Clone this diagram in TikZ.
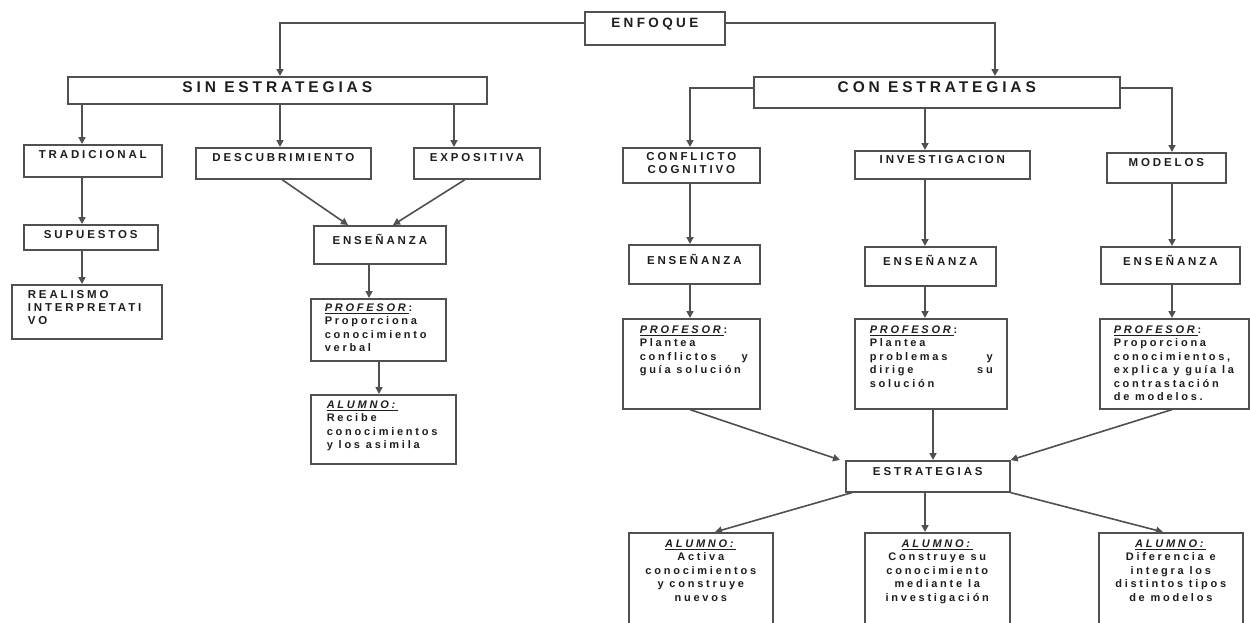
\documentclass[tikz,border=0pt]{standalone}
\usepackage{fontspec}
\setmainfont{Liberation Sans}[LetterSpace=25,BoldFont={Liberation Sans Bold},BoldItalicFont={Liberation Sans Bold Italic}]
\usetikzlibrary{arrows.meta,calc}
\definecolor{lc}{HTML}{505050}
\definecolor{tc}{HTML}{1E1E1E}
\newcommand\bc[4]{\parbox[c][#2pt][t]{#1pt}{\vspace*{#3pt}\centering #4\par}}
\newcommand\bl[6]{\parbox[c][#2pt][t]{#1pt}{\vspace*{#3pt}\leftskip=#4pt\rightskip=#5pt plus 1fil\parindent=0pt #6\par}}
\newcommand\jf{\hspace{0pt plus 1fill}}
\newcommand\prof{\underline{\textit{PROFESOR}}:}
\newcommand\alu{\underline{\textit{ALUMNO:}}}
\tikzset{
  x=1pt, y=-1pt,
  box/.style={draw=lc, line width=1.6pt, inner sep=0pt, anchor=north west, text=tc},
  fbig/.style={font=\fontsize{15.5}{18}\selectfont\bfseries},
  fmed/.style={font=\fontsize{13.5}{16}\selectfont\bfseries},
  fsm/.style={font=\fontsize{11.5}{13}\selectfont\bfseries},
  fbody/.style={font=\fontsize{11}{13.4}\selectfont\bfseries},
  arr/.style={draw=lc, line width=1.6pt, -{Triangle[length=7pt,width=7pt]}}
}
\begin{document}
\begin{tikzpicture}
\useasboundingbox (0,0) rectangle (1250,622);
\fill[white] (0,0) rectangle (1250,622);
\clip (0,0) rectangle (1250,622);
% column coordinates
\foreach \c in {82,280,282,348,369,379,393,454,465,690,715,840,925,933,995,1163,1172}{\coordinate (c\c) at (\c,0);}
% nodes
\node[box,fmed] (enf) at (584,11) {\bc{140}{33}{6}{ENFOQUE}};
\node[box,fbig] (sin) at (67,76) {\bc{419}{27}{5}{SIN ESTRATEGIAS}};
\node[box,fbig] (con) at (753,76) {\bc{366}{31}{5}{CON ESTRATEGIAS}};
\node[box,fsm] (trad) at (23,144) {\bc{138}{32}{6}{TRADICIONAL}};
\node[box,fsm] (desc) at (195,147) {\bc{175}{31}{6}{DESCUBRIMIENTO}};
\node[box,fsm] (expo) at (413,147) {\bc{126}{31}{6}{EXPOSITIVA}};
\node[box,fsm] (sup) at (23,224) {\bc{134}{25}{6}{SUPUESTOS}};
\node[box,fsm] (real) at (11,284) {\bl{150}{54}{6}{16}{0}{REALISMO\\ INTERPRETATI\\ VO}};
\node[box,fsm] (ens1) at (313,225) {\bc{132}{38}{8}{ENSEÑANZA}};
\node[box,fbody] (profL) at (310,298) {\bl{135}{62}{5}{14}{0}{\prof\\ Proporciona\\ conocimiento\\ verbal}};
\node[box,fbody] (aluL) at (310,394) {\bl{145}{69}{6}{16}{0}{\alu\\ Recibe\\ conocimientos\\ y los asimila}};
\node[box,fsm] (conf) at (622,147) {\bc{137}{35}{5}{CONFLICTO\\ COGNITIVO}};
\node[box,fsm] (inv) at (854,150) {\bc{175}{28}{5}{INVESTIGACION}};
\node[box,fsm] (mod) at (1106,152) {\bc{119}{30}{6}{MODELOS}};
\node[box,fsm] (ens2) at (628,244) {\bc{131}{39}{9}{ENSEÑANZA}};
\node[box,fsm] (ens3) at (864,246) {\bc{131}{39}{8}{ENSEÑANZA}};
\node[box,fsm] (ens4) at (1100,246) {\bc{139}{37}{8}{ENSEÑANZA}};
\node[box,fbody] (pr1) at (622,318) {\bl{137}{90}{7}{17}{12}{\prof\\ Plantea\\ conflictos\jf y\\ guía~solución}};
\node[box,fbody] (pr2) at (854,318) {\bl{152}{90}{7}{15}{14}{\prof\\ Plantea\\ problemas\jf y\\ dirige\jf su\\ solución}};
\node[box,fbody] (pr3) at (1099,318) {\bl{149}{90}{7}{14}{0}{\prof\\ Proporciona\\ conocimientos,\\ explica~y~guía~la\\ contrastación\\ de~modelos.}};
\node[box,fsm] (estr) at (845,460) {\bc{164}{31}{7}{ESTRATEGIAS}};
\node[box,fbody] (al1) at (628,532) {\bc{144}{108}{7}{\alu\\ Activa\\ conocimientos\\ y~construye\\ nuevos}};
\node[box,fbody] (al2) at (864,532) {\bc{145}{108}{7}{\alu\\ Construye~su\\ conocimiento\\ mediante~la\\ investigación}};
\node[box,fbody] (al3) at (1098,532) {\bc{144}{108}{7}{\alu\\ Diferencia~e\\ integra~los\\ distintos~tipos\\ de~modelos}};
% connectors
\draw[arr] ([yshift=5.5pt]enf.west) -| (sin.north -| c280);
\draw[arr] ([yshift=5.5pt]enf.east) -| (con.north -| c995);
\draw[arr] (sin.south -| c82) -- (trad.north -| c82);
\draw[arr] (sin.south -| c280) -- (desc.north -| c280);
\draw[arr] (sin.south -| c454) -- (expo.north -| c454);
\draw[arr] (trad.south -| c82) -- (sup.north -| c82);
\draw[arr] (sup.south -| c82) -- (real.north -| c82);
\draw[arr] (desc.south -| c282) -- (ens1.north -| c348);
\draw[arr] (expo.south -| c465) -- (ens1.north -| c393);
\draw[arr] (ens1.south -| c369) -- (profL.north -| c369);
\draw[arr] (profL.south -| c379) -- (aluL.north -| c379);
\draw[arr] ([yshift=4.5pt]con.west) -| (conf.north -| c690);
\draw[arr] (con.south -| c925) -- (inv.north -| c925);
\draw[arr] ([yshift=4.5pt]con.east) -| (mod.north -| c1172);
\draw[arr] (conf.south -| c690) -- (ens2.north -| c690);
\draw[arr] (ens2.south -| c690) -- (pr1.north -| c690);
\draw[arr] (inv.south -| c925) -- (ens3.north -| c925);
\draw[arr] (ens3.south -| c925) -- (pr2.north -| c925);
\draw[arr] (mod.south -| c1172) -- (ens4.north -| c1172);
\draw[arr] (ens4.south -| c1172) -- (pr3.north -| c1172);
\draw[arr] (pr1.south -| c690) -- (estr.north -| c840);
\draw[arr] (pr2.south -| c933) -- (estr.north -| c933);
\draw[arr] (pr3.south -| c1172) -- (estr.north east);
\draw[arr] ([xshift=7pt]estr.south west) -- (al1.north -| c715);
\draw[arr] (estr.south -| c925) -- (al2.north -| c925);
\draw[arr] (estr.south east) -- (al3.north -| c1163);
\end{tikzpicture}
\end{document}
